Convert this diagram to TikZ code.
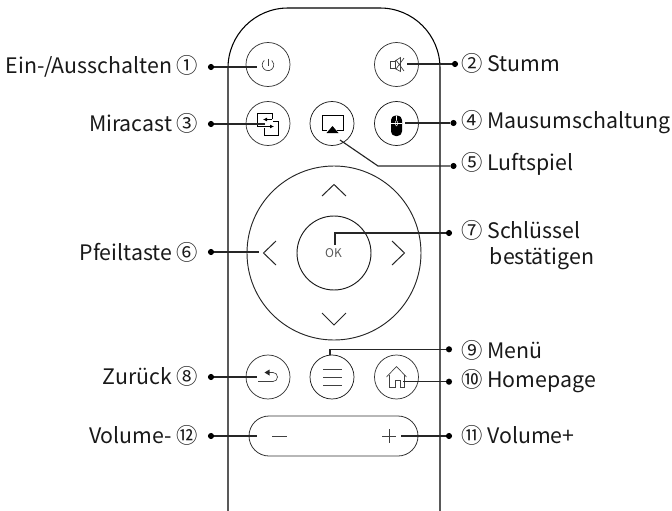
\documentclass[tikz,border=0pt]{standalone}
\usepackage{fontspec}
\setmainfont{Noto Sans CJK SC}
\usetikzlibrary{arrows.meta}
\tikzset{
	btn/.style={draw=black!80, line width=0.55pt, circle, minimum size=33pt, inner sep=0pt},
	lead/.style={line width=0.85pt, color=black!85},
	icon/.style={line width=0.5pt, color=black!75},
	pad/.style={line width=0.75pt, color=black!85},
	dot/.style={circle, fill=black, minimum size=4.6pt, inner sep=0pt},
	txtl/.style={anchor=east, inner sep=0pt, font=\fontsize{16pt}{18pt}\selectfont, color=black!90},
	txtr/.style={anchor=west, inner sep=0pt, font=\fontsize{16pt}{18pt}\selectfont, color=black!90, align=left}
}
\begin{document}
\begin{tikzpicture}[x=0.75pt, y=-0.75pt]
	\useasboundingbox (0, 0) rectangle (672, 511);
	%%%%% BODY %%%%%
	\draw[line width=0.8pt] (228, 511) -- (228, 68) arc (180:270:60) -- (380, 8) arc (270:360:60) -- (440, 511);

	%%%%% BUTTONS %%%%%
	\node[btn] (power) at (268, 64.5) {};
	\node[btn] (mute) at (396.5, 64.5) {};
	\node[btn] (cast) at (268, 123.5) {};
	\node[btn, draw=black!90] (air) at (332, 123.5) {};
	\node[btn, draw=black!90] (mouse) at (396.5, 123.5) {};
	\node[btn, draw=black!85, line width=0.7pt] (arrows) at (334, 253) [minimum size=130.5pt] {};
	\node[btn, draw=black!90, line width=0.7pt] (ok) at (334, 253) [minimum size=55.5pt] {};
	\node[btn] (back) at (268, 377) {};
	\node[btn, draw=black!90] (menu) at (332, 377) {};
	\node[btn] (home) at (396.5, 377) {};
	\node[draw=black!80, line width=0.6pt, rounded corners=15pt, minimum width=126.75pt, minimum height=30pt, inner sep=0pt] (vol) at (333.5, 436) {};

	%%%%% ICONS %%%%%
	\draw[icon] (264.3, 60.4) arc (230:-50:5.8);
	\draw[icon] (268, 58.5) -- (268, 66);

	\draw[icon] (390.5, 61) rectangle (395, 68.5);
	\draw[icon] (395, 61) -- (400.5, 57.5) -- (400.5, 71.5) -- (395, 68.5);
	\draw[icon] (396, 60) -- (404, 71);
	\draw[icon] (396, 69) -- (404, 58);

	\draw[line width=0.7pt] (272, 119) -- (272, 113) -- (257.5, 113) -- (257.5, 126.5) -- (268, 126.5);
	\draw[line width=0.7pt] (264.5, 128) -- (264.5, 135) -- (278.5, 135) -- (278.5, 121) -- (273, 121);
	\draw[line width=0.7pt, -{Latex[length=3pt, width=3pt]}] (272, 119.5) -- (263, 119.5);
	\draw[line width=0.7pt, -{Latex[length=3pt, width=3pt]}] (266, 126.5) -- (274, 126.5);

	\draw[line width=0.65pt] (327, 130) -- (322, 130) -- (322, 115) -- (343, 115) -- (343, 130) -- (337, 130);
	\fill[black] (326.5, 133) -- (332.5, 126) -- (338.5, 133) -- cycle;

	\fill[black, rounded corners=3.4pt] (391, 115.5) rectangle (402, 136);
	\draw[white, line width=0.35pt] (391, 123.5) -- (402, 123.5);
	\draw[white, line width=0.35pt] (396.5, 115.5) -- (396.5, 120);
	\draw[white, line width=0.35pt, rounded corners=1pt] (395.3, 120.5) rectangle (397.7, 126);

	\node[font=\fontsize{9pt}{10pt}\selectfont, color=black!65, inner sep=0pt] (oktxt) at (333.5, 253.5) {OK};

	\draw[pad] (322, 196) -- (334, 184.5) -- (346, 196);
	\draw[pad] (322, 313) -- (334, 325) -- (346, 313);
	\draw[pad] (276, 241) -- (263.5, 253) -- (276, 265);
	\draw[pad] (392, 241) -- (404.5, 253) -- (392, 265);

	\draw[icon] (258, 381.5) -- (273, 381.5) arc (90:-90:4.5) -- (269, 372.5);
	\fill[black!85] (264.5, 372.5) -- (269.5, 369.5) -- (269.5, 375.5) -- cycle;

	\draw[icon] (323, 369) -- (341.5, 369);
	\draw[icon] (323, 377) -- (341.5, 377);
	\draw[icon] (323, 385) -- (341.5, 385);

	\draw[icon] (386.5, 377) -- (396.5, 366.5) -- (406.5, 377);
	\draw[icon] (389, 375) -- (389, 387) -- (395, 387) -- (395, 380) -- (400, 380) -- (400, 387) -- (404, 387) -- (404, 375);

	\draw[icon, line width=0.65pt] (272, 436) -- (287, 436);
	\draw[icon, line width=0.65pt] (382, 436) -- (396, 436);
	\draw[icon, line width=0.65pt] (389, 429) -- (389, 443);

	%%%%% DOTS %%%%%
	\node[dot] (d1) at (211, 67) {};
	\node[dot] (d2) at (455, 64) {};
	\node[dot] (d3) at (211, 124) {};
	\node[dot] (d4) at (453.5, 123) {};
	\node[dot] (d5) at (453.5, 166) {};
	\node[dot] (d6) at (211, 252) {};
	\node[dot] (d7) at (449, 233) {};
	\node[dot] (d8) at (211, 377) {};
	\node[dot] (d9) at (449, 349.3) {};
	\node[dot] (d10) at (449, 381.7) {};
	\node[dot] (d11) at (449, 436) {};
	\node[dot] (d12) at (211, 436) {};

	%%%%% LEADERS %%%%%
	\coordinate (e1) at (257, 67);
	\coordinate (e2) at (407, 64);
	\coordinate (e3) at (265, 124);
	\coordinate (e4) at (405, 123);
	\coordinate (e5) at (340, 140);
	\coordinate (b5) at (378, 166);
	\coordinate (e6) at (259, 252);
	\coordinate (e7) at (335, 245);
	\coordinate (e8) at (257, 377);
	\coordinate (e9) at (330, 355);
	\coordinate (e10) at (403, 381.7);
	\coordinate (e11) at (401, 436);
	\coordinate (e12) at (257, 436);

	\draw[lead] (d1) -- (e1);
	\draw[lead] (d2) -- (e2);
	\draw[lead] (d3) -- (e3);
	\draw[lead] (d4) -- (e4);
	\draw[lead] (d5) -- (b5) -- (e5);
	\draw[lead] (d6) -- (e6);
	\draw[lead] (d7) -| (e7);
	\draw[lead] (d8) -- (e8);
	\draw[lead] (d9) -| (e9);
	\draw[lead] (d10) -- (e10);
	\draw[lead] (d11) -- (e11);
	\draw[lead] (d12) -- (e12);

	%%%%% LABELS %%%%%
	\node[txtl] (t1) at (198.5, 66) {Ein-/Ausschalten ①};
	\node[txtr] (t2) at (461, 63) {② Stumm};
	\node[txtl] (t3) at (198.5, 123) {Miracast ③};
	\node[txtr] (t4) at (461, 122) {④ Mausumschaltung};
	\node[txtl] (t6) at (198.5, 252) {Pfeiltaste ⑥};
	\node[txtr] (t5) at (461, 164) {⑤ Luftspiel};
	\node[txtr, anchor=north west] (t7) at (461, 220) {⑦ Schlüssel\\[1.5pt]\hspace{21.5pt}bestätigen};
	\node[txtl] (t8) at (198.5, 376) {Zurück ⑧};
	\node[txtr] (t9) at (461, 350) {⑨ Menü};
	\node[txtr] (t10) at (461, 381) {⑩ Homepage};
	\node[txtr] (t11) at (461, 435) {⑪ Volume+};
	\node[txtl] (t12) at (198.5, 435) {Volume- ⑫};
\end{tikzpicture}
\end{document}
